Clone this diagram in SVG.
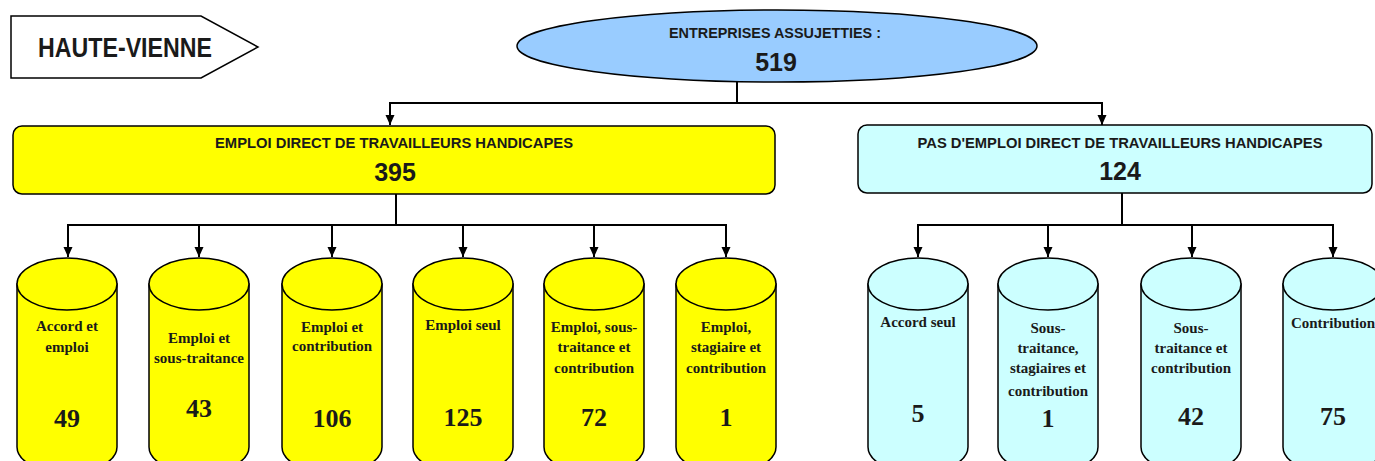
<svg xmlns="http://www.w3.org/2000/svg" width="1375" height="461" viewBox="0 0 1375 461">
<style>
.bg{fill:#ffffff}
.ttl{font-family:"Liberation Sans",Arial,sans-serif;font-weight:bold;fill:#1a1a1a;text-anchor:middle}
.big{font-family:"Liberation Sans",Arial,sans-serif;font-weight:bold;font-size:25px;fill:#1a1a1a;text-anchor:middle}
.cyl{stroke:#000;stroke-width:1.5}
.y{fill:#ffff00}
.c{fill:#ccffff}
.lab{font-family:"Liberation Serif","Times New Roman",serif;font-weight:bold;font-size:15px;fill:#1a1a1a;text-anchor:middle}
.num{font-family:"Liberation Serif","Times New Roman",serif;font-weight:bold;font-size:26px;fill:#1a1a1a;text-anchor:middle}
.conn{fill:none;stroke:#000;stroke-width:2}
</style>
<defs>
<marker id="arr" markerUnits="userSpaceOnUse" markerWidth="10" markerHeight="10" refX="10" refY="5" orient="auto">
<path d="M0,0.5 L10,5 L0,9.5 z" fill="#000"/>
</marker>
</defs>
<rect class="bg" x="0" y="0" width="1375" height="461"/>

<g id="haute-vienne">
<polygon points="11,16 201,16 258,47 201,78 11,78" fill="#fff" stroke="#000" stroke-width="1.5"/>
<text class="ttl" x="125" y="57" font-size="28" textLength="174" lengthAdjust="spacingAndGlyphs">HAUTE-VIENNE</text>
</g>

<g id="entreprises">
<ellipse cx="777" cy="46" rx="260" ry="36" fill="#99ccff" stroke="#000" stroke-width="1.5"/>
<text class="ttl" x="775" y="38" font-size="15" textLength="212" lengthAdjust="spacingAndGlyphs">ENTREPRISES ASSUJETTIES :</text>
<text class="big" x="776" y="71">519</text>
</g>

<g id="emploi-direct">
<rect x="13" y="126" width="762" height="68" rx="9" fill="#ffff00" stroke="#000" stroke-width="1.5"/>
<text class="ttl" x="394" y="148" font-size="15" textLength="358" lengthAdjust="spacingAndGlyphs">EMPLOI DIRECT DE TRAVAILLEURS HANDICAPES</text>
<text class="big" x="395" y="181">395</text>
</g>

<g id="pas-emploi-direct">
<rect x="858" y="125" width="514" height="68" rx="9" fill="#ccffff" stroke="#000" stroke-width="1.5"/>
<text class="ttl" x="1120" y="148" font-size="15" textLength="405" lengthAdjust="spacingAndGlyphs">PAS D'EMPLOI DIRECT DE TRAVAILLEURS HANDICAPES</text>
<text class="big" x="1120" y="180">124</text>
</g>

<g id="connectors">
<path class="conn" d="M737,82 V103 M390,103 H1102"/>
<path class="conn" d="M390,102 V125" marker-end="url(#arr)"/>
<path class="conn" d="M1102,102 V125" marker-end="url(#arr)"/>
<path class="conn" d="M396,194 V225 M68,225 H726"/>
<path class="conn" d="M68,224 V257" marker-end="url(#arr)"/>
<path class="conn" d="M199,224 V257" marker-end="url(#arr)"/>
<path class="conn" d="M332,224 V257" marker-end="url(#arr)"/>
<path class="conn" d="M463,224 V257" marker-end="url(#arr)"/>
<path class="conn" d="M594,224 V257" marker-end="url(#arr)"/>
<path class="conn" d="M726,224 V257" marker-end="url(#arr)"/>
<path class="conn" d="M1122,193 V225 M918,225 H1333"/>
<path class="conn" d="M918,224 V257" marker-end="url(#arr)"/>
<path class="conn" d="M1048,224 V257" marker-end="url(#arr)"/>
<path class="conn" d="M1192,224 V257" marker-end="url(#arr)"/>
<path class="conn" d="M1333,224 V257" marker-end="url(#arr)"/>
</g>

<g id="accord-emploi">
<path class="cyl y" d="M17,284 V447 A50,26 0 0 0 117,447 V284 Z"/>
<ellipse class="cyl y" cx="67" cy="284" rx="50" ry="26"/>
<text class="lab" x="67" y="331">Accord et</text>
<text class="lab" x="67" y="352">emploi</text>
<text class="num" x="67" y="427">49</text>
</g>

<g id="emploi-sous-traitance">
<path class="cyl y" d="M149,284 V447 A50,26 0 0 0 249,447 V284 Z"/>
<ellipse class="cyl y" cx="199" cy="284" rx="50" ry="26"/>
<text class="lab" x="199" y="343">Emploi et</text>
<text class="lab" x="199" y="363" font-size="14">sous-traitance</text>
<text class="num" x="199" y="417">43</text>
</g>

<g id="emploi-contribution">
<path class="cyl y" d="M282,284 V447 A50,26 0 0 0 382,447 V284 Z"/>
<ellipse class="cyl y" cx="332" cy="284" rx="50" ry="26"/>
<text class="lab" x="332" y="332">Emploi et</text>
<text class="lab" x="332" y="351">contribution</text>
<text class="num" x="332" y="427">106</text>
</g>

<g id="emploi-seul">
<path class="cyl y" d="M413,284 V447 A50,26 0 0 0 513,447 V284 Z"/>
<ellipse class="cyl y" cx="463" cy="284" rx="50" ry="26"/>
<text class="lab" x="463" y="330">Emploi seul</text>
<text class="num" x="463" y="426">125</text>
</g>

<g id="emploi-sous-traitance-contribution">
<path class="cyl y" d="M544,284 V447 A50,26 0 0 0 644,447 V284 Z"/>
<ellipse class="cyl y" cx="594" cy="284" rx="50" ry="26"/>
<text class="lab" x="594" y="332">Emploi, sous-</text>
<text class="lab" x="594" y="352">traitance et</text>
<text class="lab" x="594" y="373">contribution</text>
<text class="num" x="594" y="426">72</text>
</g>

<g id="emploi-stagiaire-contribution">
<path class="cyl y" d="M676,284 V447 A50,26 0 0 0 776,447 V284 Z"/>
<ellipse class="cyl y" cx="726" cy="284" rx="50" ry="26"/>
<text class="lab" x="726" y="332">Emploi,</text>
<text class="lab" x="726" y="352">stagiaire et</text>
<text class="lab" x="726" y="373">contribution</text>
<text class="num" x="726" y="426">1</text>
</g>

<g id="accord-seul">
<path class="cyl c" d="M868,284 V447 A50,26 0 0 0 968,447 V284 Z"/>
<ellipse class="cyl c" cx="918" cy="284" rx="50" ry="26"/>
<text class="lab" x="918" y="327">Accord seul</text>
<text class="num" x="918" y="422">5</text>
</g>

<g id="sous-traitance-stagiaires-contribution">
<path class="cyl c" d="M998,284 V447 A50,26 0 0 0 1098,447 V284 Z"/>
<ellipse class="cyl c" cx="1048" cy="284" rx="50" ry="26"/>
<text class="lab" x="1048" y="333">Sous-</text>
<text class="lab" x="1048" y="353">traitance,</text>
<text class="lab" x="1048" y="373">stagiaires et</text>
<text class="lab" x="1048" y="396">contribution</text>
<text class="num" x="1048" y="427">1</text>
</g>

<g id="sous-traitance-contribution">
<path class="cyl c" d="M1141,284 V447 A50,26 0 0 0 1241,447 V284 Z"/>
<ellipse class="cyl c" cx="1191" cy="284" rx="50" ry="26"/>
<text class="lab" x="1191" y="333">Sous-</text>
<text class="lab" x="1191" y="353">traitance et</text>
<text class="lab" x="1191" y="373">contribution</text>
<text class="num" x="1191" y="425">42</text>
</g>

<g id="contribution">
<path class="cyl c" d="M1283,284 V447 A50,26 0 0 0 1383,447 V284 Z"/>
<ellipse class="cyl c" cx="1333" cy="284" rx="50" ry="26"/>
<text class="lab" x="1333" y="328">Contribution</text>
<text class="num" x="1333" y="425">75</text>
</g>
</svg>
